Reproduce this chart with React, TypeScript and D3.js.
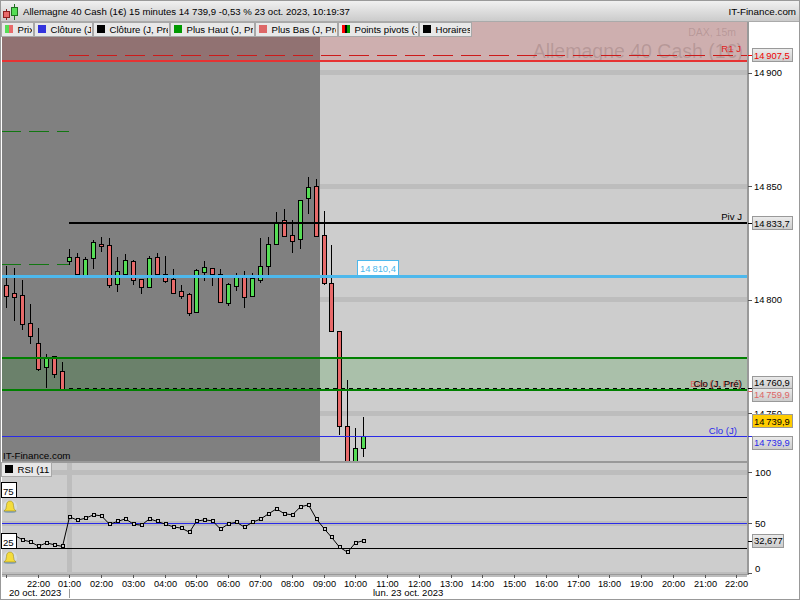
import React, { useEffect, useRef } from 'react';
import * as d3 from 'd3';

// prices, one entry per 15 minute candle
const opens = [14806.2, 14802.7, 14801.9, 14789.5, 14780.7, 14770.4, 14775, 14768.4, 14817.1, 14818.6, 14809.8, 14818.1, 14824.3, 14823.9, 14807, 14811.4, 14816.8, 14808.9, 14805.4, 14818.6, 14811.1, 14808.9, 14803.6, 14802.3, 14794.6, 14812.3, 14813.7, 14811.1, 14798.6, 14806.1, 14810, 14801.7, 14808.7, 14814.9, 14824.6, 14835.2, 14828.3, 14826.8, 14844.6, 14849.9, 14828.3, 14807.1, 14786, 14744.1, 14722, 14734.7];
const closes = [14801.7, 14801.3, 14789.4, 14784.1, 14769.5, 14774.1, 14767.3, 14760.7, 14818.6, 14811.4, 14817.7, 14825.2, 14823.6, 14806.5, 14812.4, 14817.3, 14808.4, 14805.7, 14818.1, 14811.4, 14808.3, 14803, 14801.7, 14794.2, 14812.9, 14814.2, 14811.4, 14799, 14806.7, 14810, 14801.3, 14809.3, 14814.6, 14824.3, 14834.3, 14828.1, 14825.9, 14843.7, 14849.4, 14828.1, 14807.4, 14786.3, 14744.4, 14722, 14734.4, 14739.9];
const highs = [14814.8, 14813.9, 14808.6, 14798, 14787.4, 14776, 14775.1, 14772.5, 14822.2, 14820.3, 14818.6, 14826.2, 14827.5, 14827, 14818.6, 14820, 14817.4, 14808.9, 14819, 14820.3, 14819.2, 14813.4, 14806.2, 14802.7, 14813.3, 14817, 14813.7, 14813.4, 14807.1, 14811.7, 14812.5, 14811.7, 14827, 14827.5, 14838.5, 14839.9, 14835, 14843.7, 14854, 14853, 14839, 14824, 14786, 14764.5, 14743.4, 14748.2];
const lows = [14796.4, 14790.7, 14786.6, 14780.4, 14768.5, 14761, 14765.4, 14760.7, 14815.4, 14810.7, 14809.8, 14813.4, 14821, 14805.1, 14803.5, 14810.8, 14806.4, 14802.4, 14805.4, 14811.4, 14807.4, 14802.4, 14800.2, 14792.9, 14794.6, 14808.1, 14806, 14799, 14797.1, 14803.9, 14796.2, 14801.7, 14807.3, 14810.7, 14824, 14828.1, 14820.5, 14822.2, 14837.7, 14828.1, 14806.4, 14785.7, 14740.3, 14720, 14720, 14730.6];
const rsiValues = [37, 38, 33.5, 31.5, 27.3, 30.5, 28.6, 27, 56, 52.8, 54.7, 58, 57, 48.8, 51.5, 54.1, 48.8, 47.9, 54.1, 51.5, 48.8, 46.2, 44.9, 41, 51.8, 53.1, 52.1, 44, 49.2, 50.8, 45.9, 50.8, 53.8, 59, 63.9, 59, 58, 65.9, 67.8, 53.8, 44, 36.1, 26.3, 21.4, 30.6, 32.677];

const priceTicks = [14900, 14850, 14800, 14750];
const rsiTicks = [100, 50, 0];
const hourLabels = ['22:00', '01:00', '02:00', '03:00', '04:00', '05:00', '06:00', '07:00', '08:00', '09:00', '10:00', '11:00', '12:00', '13:00', '14:00', '15:00', '16:00', '17:00', '18:00', '19:00', '20:00', '21:00', '22:00'];

const legendNames = ['Prix', 'Clôture (J', 'Clôture (J, Pré', 'Plus Haut (J, Pr', 'Plus Bas (J, Pré', 'Points pivots (J', 'Horaires'];

const R1 = 14907.5;
const RED_LINE = 14904.9;
const PIVOT = 14833.7;
const ALERT = 14810.4;
const GREEN_TOP = 14773.8;
const GREEN_BOTTOM = 14759.9;
const PREV_CLOSE = 14760.9;
const DAY_CLOSE = 14739.9;
const OLD_GREEN_A = 14874.2;
const OLD_GREEN_B = 14815.5;

const FONT = '"Liberation Sans", Arial, sans-serif';
const fr = d3.formatLocale({ decimal: ',', thousands: '\u2009', grouping: [3], currency: ['', '€'] });
const fmt1 = fr.format(',.1f');
const fmtInt = fr.format(',d');

const App: React.FC = () => {
  const svgRef = useRef<SVGSVGElement>(null);

  useEffect(() => {
    if (!svgRef.current) return;
    const svg = d3.select(svgRef.current);
    svg.selectAll('*').remove();

    const right = 747;
    const mainTop = 22;
    const mainBottom = 461;

    const x = d3.scaleLinear().domain([0, 45]).range([6.43, 363.73]);
    const y = d3.scaleLinear().domain([14900, 14750]).range([72.5, 413]);
    const yRsi = d3.scaleLinear().domain([100, 0]).range([472, 574]);
    const px = (v: number) => Math.floor(x(v));

    const text = (g: any, tx: number, ty: number, s: string, fill = '#000', size = 9.6, anchor = 'start') =>
      g.append('text').attr('x', tx).attr('y', ty).attr('fill', fill)
        .attr('font-size', size).attr('text-anchor', anchor).attr('font-family', FONT).text(s);

    const defs = svg.append('defs');
    const grad = defs.append('linearGradient').attr('id', 'head').attr('x2', 0).attr('y2', 1);
    grad.append('stop').attr('offset', 0).attr('stop-color', '#f2f2f2');
    grad.append('stop').attr('offset', 1).attr('stop-color', '#c9c9c9');
    const tagGrad = defs.append('linearGradient').attr('id', 'tag').attr('x2', 0).attr('y2', 1);
    tagGrad.append('stop').attr('offset', 0).attr('stop-color', '#ececec');
    tagGrad.append('stop').attr('offset', 1).attr('stop-color', '#cccccc');
    defs.append('clipPath').attr('id', 'main').append('rect')
      .attr('x', 2).attr('y', mainTop).attr('width', right - 2).attr('height', mainBottom - mainTop);

    svg.append('rect').attr('width', 800).attr('height', 600).attr('fill', '#fff');

    // main panel
    const main = svg.append('g').attr('clip-path', 'url(#main)');
    const flat = main.append('g').attr('shape-rendering', 'crispEdges');
    flat.append('rect').attr('x', 2).attr('y', mainTop).attr('width', right - 2).attr('height', mainBottom - mainTop).attr('fill', '#cdcdcd');
    priceTicks.forEach(p => {
      flat.append('rect').attr('x', 2).attr('y', y(p) - 2.5).attr('width', right - 2).attr('height', 5).attr('fill', '#bdbdbd');
    });
    flat.append('rect').attr('x', 2).attr('y', mainTop).attr('width', 318).attr('height', mainBottom - mainTop).attr('fill', '#808080');
    flat.append('rect').attr('x', 2).attr('y', mainTop).attr('width', right - 2).attr('height', y(RED_LINE) - mainTop)
      .attr('fill', 'rgb(215,56,56)').attr('opacity', 0.195);
    flat.append('rect').attr('x', 2).attr('y', y(GREEN_TOP) - 1).attr('width', right - 2).attr('height', y(GREEN_BOTTOM) - y(GREEN_TOP))
      .attr('fill', 'rgb(10,133,10)').attr('opacity', 0.18);

    text(main, 736, 36, 'DAX, 15m', 'rgba(110,80,80,0.25)', 10.5, 'end');
    text(main, 743, 58, 'Allemagne 40 Cash (1€)', 'rgba(110,80,80,0.25)', 19.5, 'end');

    // candles
    const candles = main.append('g').attr('shape-rendering', 'crispEdges');
    opens.forEach((o, i) => {
      const c = closes[i];
      const cx = px(i) + 0.5;
      candles.append('line').attr('x1', cx).attr('x2', cx).attr('y1', y(highs[i])).attr('y2', y(lows[i]))
        .attr('stroke', '#000');
      const top = Math.round(y(Math.max(o, c)));
      const bottom = Math.round(y(Math.min(o, c)));
      candles.append('rect').attr('x', cx - 2).attr('y', top + 0.5).attr('width', 4).attr('height', Math.max(bottom - top, 1))
        .attr('fill', c >= o ? '#55dd55' : '#e86a6a').attr('stroke', '#000');
    });

    // level lines
    const lines = main.append('g').attr('shape-rendering', 'crispEdges');
    const hline = (v: number, x0: number, x1: number, color: string, w: number, dash?: string) => {
      const yy = w % 2 === 1 ? Math.round(y(v)) + 0.5 : Math.floor(y(v));
      const l = lines.append('line').attr('x1', x0).attr('x2', x1).attr('y1', yy).attr('y2', yy)
        .attr('stroke', color).attr('stroke-width', w);
      if (dash) l.attr('stroke-dasharray', dash);
    };
    const start = px(8);
    hline(R1, start, right, '#cc1a1a', 1, '20 8');
    hline(RED_LINE, 2, right, '#e63333', 2);
    hline(OLD_GREEN_A, 1, start, '#117711', 1, '20 8');
    hline(OLD_GREEN_B, 1, start, '#117711', 1, '20 8');
    hline(PIVOT, start, right, '#000', 2);
    lines.append('rect').attr('x', 2).attr('y', Math.round(y(ALERT)) - 1).attr('width', right - 2).attr('height', 3).attr('fill', '#4db8ec');
    hline(GREEN_TOP, 2, right, '#008000', 2);
    hline(GREEN_BOTTOM, 2, right, '#008000', 2);
    hline(PREV_CLOSE, start, right, '#000', 1, '4 4');
    lines.append('rect').attr('x', 2).attr('y', Math.round(y(DAY_CLOSE))).attr('width', right - 2).attr('height', 1).attr('fill', '#2a2ae8');

    text(main, 741, y(R1) - 3, 'R1 J', '#dd2222', 9.6, 'end');
    text(main, 742, y(PIVOT) - 3, 'Piv J', '#000', 9.6, 'end');
    text(main, 741, y(PREV_CLOSE) - 1, 'Bas (J, Pré)', '#dd6666', 9.6, 'end');
    text(main, 742, y(PREV_CLOSE) - 1, 'Clo (J, Pré)', '#000', 9.6, 'end');
    text(main, 737, y(DAY_CLOSE) - 2, 'Clo (J)', '#2a2ae8', 9.6, 'end');
    text(main, 3, 458.5, 'IT-Finance.com', '#000', 9.8);

    const alertBox = svg.append('g');
    alertBox.append('rect').attr('x', 357.5).attr('y', Math.round(y(ALERT)) - 15.5).attr('width', 41).attr('height', 15)
      .attr('fill', '#fff').attr('stroke', '#4db8ec').attr('shape-rendering', 'crispEdges');
    text(alertBox, 378, y(ALERT) - 4, fmt1(ALERT), '#4db8ec', 9.4, 'middle');

    // header
    svg.append('rect').attr('width', 800).attr('height', 22).attr('fill', 'url(#head)');
    svg.append('rect').attr('width', 800).attr('height', 1).attr('fill', '#999');
    svg.append('rect').attr('y', 21).attr('width', 800).attr('height', 1).attr('fill', '#aaa');
    const icon = svg.append('g').attr('shape-rendering', 'crispEdges');
    icon.append('line').attr('x1', 6.5).attr('x2', 6.5).attr('y1', 9).attr('y2', 20).attr('stroke', '#8a2020');
    icon.append('rect').attr('x', 3.5).attr('y', 11.5).attr('width', 6).attr('height', 6).attr('fill', '#e86a6a').attr('stroke', '#8a2020');
    icon.append('line').attr('x1', 14.5).attr('x2', 14.5).attr('y1', 4).attr('y2', 20).attr('stroke', '#207020');
    icon.append('rect').attr('x', 11.5).attr('y', 7.5).attr('width', 6).attr('height', 8).attr('fill', '#55dd55').attr('stroke', '#207020');
    text(svg, 23, 15, 'Allemagne 40 Cash (1€) 15 minutes 14 739,9 -0,53 % 23 oct. 2023, 10:19:37', '#000', 9.6);
    text(svg, 796, 15, 'IT-Finance.com', '#000', 9.8, 'end');

    // legend buttons
    const legendX = [1, 34, 93, 170, 255, 338, 419, 472];
    const swatches: string[][] = [['#55dd55', '#e86a6a'], ['#3333dd'], ['#000'], ['#009900'], ['#dd6666'], ['#ff0000', '#000', '#009900'], ['#000']];
    legendNames.forEach((name, i) => {
      const bx = legendX[i];
      const bw = legendX[i + 1] - bx - 1;
      const g = svg.append('g');
      g.append('rect').attr('x', bx + 0.5).attr('y', 22.5).attr('width', bw).attr('height', 14)
        .attr('fill', '#e8e8e8').attr('stroke', '#a8a8a8').attr('shape-rendering', 'crispEdges');
      const sw = swatches[i];
      sw.forEach((c, k) => {
        g.append('rect').attr('x', bx + 4 + (k * 8) / sw.length).attr('y', 25).attr('width', 8 / sw.length).attr('height', 8)
          .attr('fill', c).attr('shape-rendering', 'crispEdges');
      });
      const cid = `leg${i}`;
      defs.append('clipPath').attr('id', cid).append('rect')
        .attr('x', bx).attr('y', 22).attr('width', bw - 1).attr('height', 15);
      text(g, bx + 16.5, 33, name, '#000', 9.6).attr('clip-path', `url(#${cid})`);
    });

    // panel frames
    const frames = svg.append('g').attr('shape-rendering', 'crispEdges');
    frames.append('rect').attr('x', 2).attr('y', mainBottom).attr('width', right - 2).attr('height', 2).attr('fill', '#999');
    frames.append('rect').attr('x', right).attr('y', mainTop).attr('width', 1.5).attr('height', 552).attr('fill', '#999');

    // RSI panel
    const rsi = svg.append('g');
    const rf = rsi.append('g').attr('shape-rendering', 'crispEdges');
    rf.append('rect').attr('x', 2).attr('y', 463).attr('width', right - 2).attr('height', 111).attr('fill', '#cdcdcd');
    rsiTicks.forEach(t => {
      rf.append('rect').attr('x', 2).attr('y', yRsi(t) - 2.5).attr('width', right - 2).attr('height', 5).attr('fill', '#bdbdbd');
    });
    rf.append('rect').attr('x', px(8) - 2).attr('y', 463).attr('width', 5).attr('height', 111).attr('fill', '#bdbdbd');
    rf.append('line').attr('x1', 2).attr('x2', right).attr('y1', yRsi(75)).attr('y2', yRsi(75)).attr('stroke', '#000');
    rf.append('line').attr('x1', 2).attr('x2', right).attr('y1', yRsi(25)).attr('y2', yRsi(25)).attr('stroke', '#000');
    rf.append('rect').attr('x', 2).attr('y', yRsi(50)).attr('width', right - 2).attr('height', 1).attr('fill', '#2a2ae8');

    const rsiLine = d3.line<number>().x((_, i) => px(i) + 0.5).y(d => yRsi(d));
    rsi.append('path').datum(rsiValues).attr('d', rsiLine).attr('fill', 'none').attr('stroke', '#000');
    rsiValues.forEach((v, i) => {
      rsi.append('rect').attr('x', px(i) - 1).attr('y', Math.round(yRsi(v)) - 1.5).attr('width', 3).attr('height', 3)
        .attr('fill', '#cdcdcd').attr('stroke', '#000').attr('shape-rendering', 'crispEdges');
    });

    const levelBox = (v: number) => {
      const yy = yRsi(v);
      rsi.append('rect').attr('x', 1.5).attr('y', yy - 15).attr('width', 15).attr('height', 15)
        .attr('fill', '#fff').attr('stroke', '#000').attr('shape-rendering', 'crispEdges');
      text(rsi, 3, yy - 3, String(v), '#000', 9.6);
      const b = rsi.append('g').attr('transform', `translate(10,${yy + 9})`);
      b.append('ellipse').attr('rx', 7).attr('ry', 6.5).attr('fill', '#dbe2ea').attr('opacity', 0.7);
      b.append('ellipse').attr('cy', 5).attr('rx', 6.5).attr('ry', 1.6).attr('fill', '#8ea8bc');
      b.append('path').attr('d', 'M-6 4.5 Q-3.5 3 -3.5 -1 Q-3.5 -5.5 0 -5.5 Q3.5 -5.5 3.5 -1 Q3.5 3 6 4.5 Z')
        .attr('fill', '#f4dc3c').attr('stroke', '#a08a18').attr('stroke-width', 0.6);
    };
    levelBox(75);
    levelBox(25);

    rsi.append('rect').attr('x', 1.5).attr('y', 462.5).attr('width', 50).attr('height', 14)
      .attr('fill', '#e8e8e8').attr('stroke', '#a8a8a8').attr('shape-rendering', 'crispEdges');
    rsi.append('rect').attr('x', 5).attr('y', 465).attr('width', 8).attr('height', 8).attr('fill', '#000');
    text(rsi, 17.5, 473, 'RSI (11', '#000', 9.6);

    // right axis
    const axisR = svg.append('g');
    const tick = (yy: number, color = '#000') => {
      axisR.append('line').attr('x1', right + 1).attr('x2', right + 5).attr('y1', Math.round(yy) + 0.5).attr('y2', Math.round(yy) + 0.5)
        .attr('stroke', color).attr('shape-rendering', 'crispEdges');
    };
    priceTicks.forEach(p => {
      tick(y(p), '#555');
      text(axisR, 754, y(p) + 3.5, fmtInt(p), '#000', 9.4);
    });
    rsiTicks.forEach(t => {
      tick(yRsi(t) - (t === 0 ? 1 : 0), '#555');
      text(axisR, 755, Math.min(yRsi(t), 568) + 3.5, String(t), '#000', 9.6);
    });

    const tag = (yy: number, s: string, color: string, fill = 'url(#tag)', tickY?: number, tw = 39.5) => {
      if (tickY !== undefined) tick(tickY, color);
      axisR.append('rect').attr('x', 752.5).attr('y', yy - 6.5).attr('width', tw).attr('height', 13)
        .attr('fill', fill).attr('stroke', '#999').attr('shape-rendering', 'crispEdges');
      text(axisR, 754, yy + 3.5, s, color, 9.4);
    };
    tag(y(R1), fmt1(R1), '#ee0000', 'url(#tag)', y(R1));
    tag(y(PIVOT), fmt1(PIVOT), '#000', 'url(#tag)', y(PIVOT));
    tag(382.5, fmt1(PREV_CLOSE), '#000', 'url(#tag)', y(PREV_CLOSE));
    tag(394.5, fmt1(GREEN_BOTTOM), '#dd6666', 'url(#tag)', y(GREEN_BOTTOM));
    tag(421, fmt1(DAY_CLOSE), '#000', '#ffcc00');
    tag(442.5, fmt1(DAY_CLOSE), '#2a2ae8', 'url(#tag)', y(DAY_CLOSE));
    tag(yRsi(rsiValues[rsiValues.length - 1]), '32,677', '#000', 'url(#tag)', yRsi(rsiValues[rsiValues.length - 1]), 31);

    // time axis, one tick per hour, 4 candles apart
    const axisB = svg.append('g');
    const tickIdx = [0, ...hourLabels.map((_, i) => 4 + i * 4)];
    tickIdx.forEach(idx => {
      axisB.append('line').attr('x1', px(idx) + 0.5).attr('x2', px(idx) + 0.5).attr('y1', 575).attr('y2', 578)
        .attr('stroke', '#555').attr('shape-rendering', 'crispEdges');
    });
    hourLabels.forEach((h, i) => {
      text(axisB, px(4 + i * 4) + 0.5, 587, h, '#000', 9.2, 'middle');
    });
    text(axisB, 9, 596, '20 oct. 2023', '#000', 9.5);
    text(axisB, 373, 596, 'lun. 23 oct. 2023', '#000', 9.5);
    axisB.append('line').attr('x1', px(8) + 0.5).attr('x2', px(8) + 0.5).attr('y1', 589).attr('y2', 598)
      .attr('stroke', '#999').attr('shape-rendering', 'crispEdges');
    axisB.append('rect').attr('x', 2).attr('y', 574).attr('width', right).attr('height', 1).attr('fill', '#999')
      .attr('shape-rendering', 'crispEdges');

    // outer frame
    svg.append('rect').attr('x', 0.5).attr('y', 0.5).attr('width', 799).attr('height', 599)
      .attr('fill', 'none').attr('stroke', '#999').attr('shape-rendering', 'crispEdges');
  }, []);

  return (
    <svg ref={svgRef} width={800} height={600} style={{ position: 'absolute', left: 0, top: 0, display: 'block' }} />
  );
};

export default App;
